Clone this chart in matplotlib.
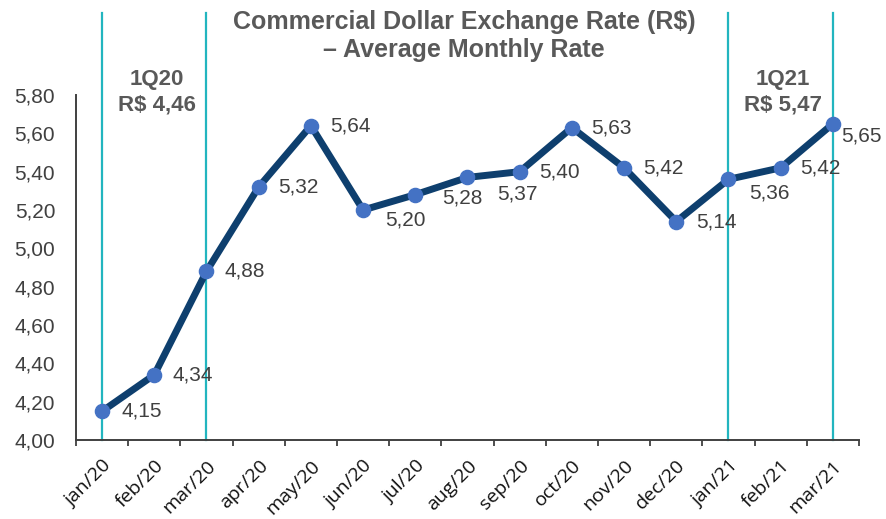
import numpy as np
import matplotlib
matplotlib.use("Agg")
import matplotlib.pyplot as plt

# monthly average commercial dollar rate (R$)
months = ['jan/20', 'feb/20', 'mar/20', 'apr/20', 'may/20', 'jun/20', 'jul/20',
          'aug/20', 'sep/20', 'oct/20', 'nov/20', 'dec/20', 'jan/21', 'feb/21', 'mar/21']
rates = [4.15, 4.34, 4.88, 5.32, 5.64, 5.20, 5.28, 5.37, 5.40, 5.63, 5.42, 5.14, 5.36, 5.42, 5.65]

# quarter brackets: (first month, last month, label)
quarters = [('jan/20', 'mar/20', '1Q20\nR$ 4,46'),
            ('jan/21', 'mar/21', '1Q21\nR$ 5,47')]

yticks = [4.0, 4.2, 4.4, 4.6, 4.8, 5.0, 5.2, 5.4, 5.6, 5.8]

# label offsets in pixels (dx to left edge, dy downward)
label_dx = [19, 18, 18, 19, 19, 22, 27, 30, 19, 19, 19, 20, 21, 19, 8]
label_dy = [0, 0, 0, 0, 0, 10, 3, 17, 0, 0, 0, 0, 14, 0, 12]

LINE = '#0e3f6e'
MARK = '#4472c4'
TEAL = '#22b5bf'
GREY = '#595959'
DARK = '#404040'

plt.rcParams['font.family'] = ['Liberation Sans', 'DejaVu Sans']

fig = plt.figure(figsize=(8.87, 5.19), dpi=100)
ax = fig.add_axes([76 / 887, 1 - 440 / 519, (859 - 76) / 887, 345 / 519])

x = np.arange(len(months))

# quarter marker lines, running up past the plot area
vline_top = (440 - 13) / 345
for first, last, text in quarters:
    i0, i1 = months.index(first), months.index(last)
    for i in (i0, i1):
        ax.axvline(i, ymin=0, ymax=vline_top, color=TEAL, lw=1.6,
                   clip_on=False, zorder=1)

ax.plot(x, rates, '-', color=LINE, lw=5, zorder=3, solid_capstyle='round')
ax.plot(x, rates, 'o', color=MARK, ms=10.2, zorder=4)

for i, v in enumerate(rates):
    ax.annotate(f'{v:.2f}'.replace('.', ','), (x[i], v),
                xytext=(label_dx[i] * 0.72, -label_dy[i] * 0.72),
                textcoords='offset points', ha='left', va='center',
                fontsize=15, color=DARK, zorder=5)

# quarter labels
for first, last, text in quarters:
    i0, i1 = months.index(first), months.index(last)
    ax.text((i0 + i1) / 2 + 0.05, 1.0 + (95 - 92) / 345, text,
            transform=ax.get_xaxis_transform(), ha='center', va='center',
            fontsize=16, fontweight='bold', color=GREY, linespacing=1.3)

ax.set_xlim(-0.5, len(months) - 0.5)
ax.set_ylim(4.0, 5.8)

ax.set_yticks(yticks)
ax.set_yticklabels([f'{v:.2f}'.replace('.', ',') for v in yticks])
ax.tick_params(axis='y', length=0, pad=15, labelsize=15, labelcolor=DARK)

ax.set_xticks(x)
ax.set_xticklabels(months, rotation=45, ha='right', rotation_mode='anchor',
                   fontsize=14, family=['Open Sans', 'DejaVu Sans'])
ax.tick_params(axis='x', which='major', length=0, pad=12, labelcolor='#111111')
ax.set_xticks(np.arange(-0.5, len(months), 1), minor=True)
ax.tick_params(axis='x', which='minor', length=4.5, width=1.3, color=DARK)

for s in ('top', 'right'):
    ax.spines[s].set_visible(False)
for s in ('left', 'bottom'):
    ax.spines[s].set_color(DARK)
    ax.spines[s].set_linewidth(1.4)

fig.text(464 / 887, 1 - 36 / 519,
         'Commercial Dollar Exchange Rate (R$)\n– Average Monthly Rate',
         ha='center', va='center', fontsize=18, fontweight='bold', color=GREY,
         linespacing=1.2)

fig.savefig('out.png', dpi=100)
